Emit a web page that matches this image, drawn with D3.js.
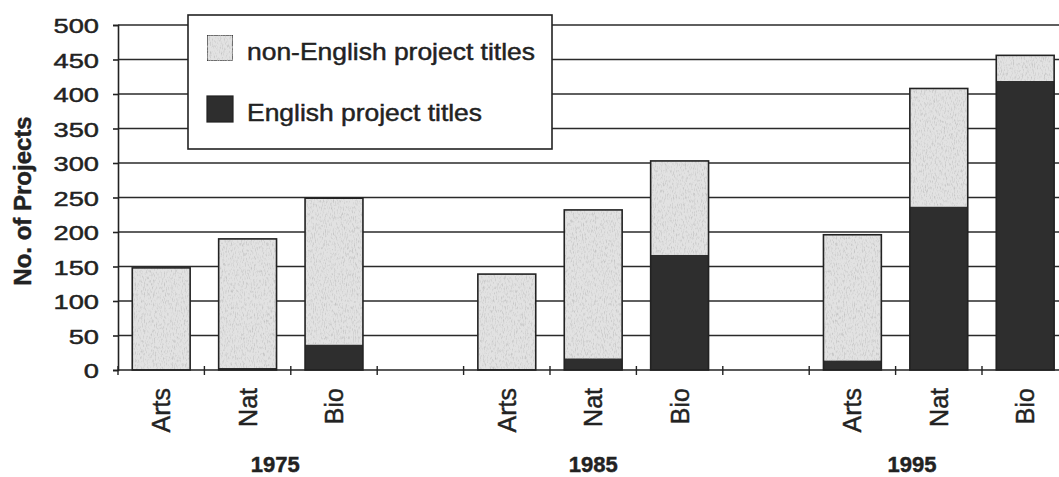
<!DOCTYPE html>
<html>
<head>
<meta charset="utf-8">
<script src="https://cdn.jsdelivr.net/npm/d3@7"></script>
<style>
  body { margin: 0; background: #fff; }
  text { font-family: "Liberation Sans", Arial, sans-serif; fill: #222; stroke: #222; stroke-width: 0.45px; }
</style>
</head>
<body>
<div id="chart"></div>
<script>
// Chart data
var years = ["1975", "1985", "1995"];
var fields = ["Arts", "Nat", "Bio"];
var english    = [0, 3, 37,   1, 17, 167,   14, 237, 419];
var nonEnglish = [148, 187, 212,   138, 215, 136,   182, 171, 37];
var yTicks = [0, 50, 100, 150, 200, 250, 300, 350, 400, 450, 500];
var seriesNames = ["non-English project titles", "English project titles"];

var svgWidth = 1059;
var svgHeight = 477;

var margin = { top: 25, left: 118 };
var step = 86.4;

var svg = d3.select("#chart")
  .append("svg")
  .attr("width", svgWidth)
  .attr("height", svgHeight);

// speckled texture for the light fill
var defs = svg.append("defs");
var f = defs.append("filter").attr("id", "speckle")
  .attr("x", 0).attr("y", 0).attr("width", 1).attr("height", 1);
f.append("feTurbulence").attr("type", "fractalNoise")
  .attr("baseFrequency", "0.9 0.3").attr("numOctaves", 2).attr("seed", 3).attr("result", "noise");
f.append("feColorMatrix").attr("in", "noise").attr("type", "matrix")
  .attr("values", "0 0 0 0 0.55  0 0 0 0 0.55  0 0 0 0 0.55  0 0 0 -2.6 1.35")
  .attr("result", "spots");
f.append("feComposite").attr("in", "spots").attr("in2", "SourceGraphic").attr("operator", "in").attr("result", "clipped");
var fm = f.append("feMerge");
fm.append("feMergeNode").attr("in", "SourceGraphic");
fm.append("feMergeNode").attr("in", "clipped");

// slots: three fields per year, a blank slot between years
var slots = [];
years.forEach(function(yr, i) {
  fields.forEach(function(fd) { slots.push(yr + " " + fd); });
  if (i < years.length - 1) slots.push("gap" + i);
});

var rows = [];
years.forEach(function(yr, i) {
  fields.forEach(function(fd, j) {
    var k = i * fields.length + j;
    rows.push({ key: yr + " " + fd, field: fd, year: yr, english: english[k], nonEnglish: nonEnglish[k] });
  });
});

var x = d3.scaleBand()
  .domain(slots)
  .range([margin.left, margin.left + step * slots.length])
  .paddingInner(0.33)
  .paddingOuter(0.165);

var y = d3.scaleLinear()
  .domain([0, 500])
  .range([370, margin.top]);

var stacked = d3.stack().keys(["english", "nonEnglish"])(rows);

// gridlines
svg.append("g")
  .selectAll("line")
  .data(yTicks.slice(1))
  .enter()
  .append("line")
  .attr("x1", margin.left)
  .attr("x2", margin.left + step * slots.length)
  .attr("y1", d => y(d))
  .attr("y2", d => y(d))
  .attr("stroke", "#2a2a2a")
  .attr("stroke-width", 1.6);

// bars
var colors = { english: "#2e2e2e", nonEnglish: "#e2e2e2" };
stacked.forEach(function(layer) {
  svg.append("g")
    .selectAll("rect")
    .data(layer)
    .enter()
    .append("rect")
    .attr("x", d => x(d.data.key))
    .attr("y", d => y(d[1]))
    .attr("width", x.bandwidth())
    .attr("height", d => y(d[0]) - y(d[1]))
    .attr("fill", colors[layer.key])
    .attr("filter", layer.key == "nonEnglish" ? "url(#speckle)" : null);
});
// bar outlines
svg.append("g")
  .selectAll("rect")
  .data(rows)
  .enter()
  .append("rect")
  .attr("x", d => x(d.key))
  .attr("y", d => y(d.english + d.nonEnglish))
  .attr("width", x.bandwidth())
  .attr("height", d => y(0) - y(d.english + d.nonEnglish))
  .attr("fill", "none")
  .attr("stroke", "#222")
  .attr("stroke-width", 1.6);

// y axis
var leftAxis = d3.axisLeft(y).tickValues(yTicks).tickSize(5);
var gy = svg.append("g")
  .attr("transform", `translate(${margin.left},0)`)
  .call(leftAxis);
gy.select(".domain").attr("stroke", "#222").attr("stroke-width", 1.6);
gy.selectAll(".tick line").attr("stroke", "#222").attr("stroke-width", 1.6);
gy.selectAll(".tick text")
  .attr("x", null).attr("dy", null)
  .attr("transform", "translate(-19,7.5) scale(1.3,1)")
  .style("font-size", "21px")
  .style("font-family", "'Liberation Sans', Arial, sans-serif")
  .attr("fill", "#222");

// x axis line + ticks at slot boundaries
svg.append("line")
  .attr("x1", margin.left).attr("x2", margin.left + step * slots.length)
  .attr("y1", y(0)).attr("y2", y(0))
  .attr("stroke", "#222").attr("stroke-width", 1.6);
svg.append("g")
  .selectAll("line")
  .data(d3.range(slots.length + 1))
  .enter()
  .append("line")
  .attr("x1", i => margin.left + i * x.step())
  .attr("x2", i => margin.left + i * x.step())
  .attr("y1", y(0) - 4).attr("y2", y(0) + 5)
  .attr("stroke", "#222").attr("stroke-width", 1.4);

// category labels
svg.append("g")
  .selectAll("text")
  .data(rows)
  .enter()
  .append("text")
  .attr("transform", d => `translate(${x(d.key) + x.bandwidth() / 2}, 388) rotate(-90)`)
  .attr("dy", "0.36em")
  .style("text-anchor", "end")
  .style("font-size", "25px")
  .text(d => d.field);

// year labels
var yearOffset = [0.32, 0, -0.31];
svg.append("g")
  .selectAll("text")
  .data(years)
  .enter()
  .append("text")
  .attr("x", (d, i) => x(d + " Nat") + x.bandwidth() / 2 + yearOffset[i] * x.step())
  .attr("y", 472)
  .style("text-anchor", "middle")
  .style("font-size", "22px")
  .style("font-weight", "bold")
  .text(d => d);

// y axis title
svg.append("text")
  .attr("transform", "translate(22,201) rotate(-90)")
  .attr("dy", "0.36em")
  .style("text-anchor", "middle")
  .style("font-size", "24px")
  .style("font-weight", "bold")
  .text("No. of Projects");

// legend
var legend = svg.append("g");
legend.append("rect")
  .attr("x", 188).attr("y", 15).attr("width", 364).attr("height", 134)
  .attr("fill", "#fff").attr("stroke", "#222").attr("stroke-width", 1.6);
var legendColors = [colors.nonEnglish, colors.english];
var items = legend.selectAll("g.item")
  .data(seriesNames)
  .enter()
  .append("g")
  .attr("class", "item")
  .attr("transform", (d, i) => `translate(207,${35 + i * 61})`);
items.append("rect")
  .attr("width", 26).attr("height", 26)
  .attr("fill", (d, i) => legendColors[i])
  .attr("stroke", "#222").attr("stroke-width", 1.2)
  .attr("filter", (d, i) => i == 0 ? "url(#speckle)" : null);
items.append("text")
  .attr("transform", "translate(40,25) scale(1.15,1)")
  .style("font-size", "23px")
  .text(d => d);
</script>
</body>
</html>
